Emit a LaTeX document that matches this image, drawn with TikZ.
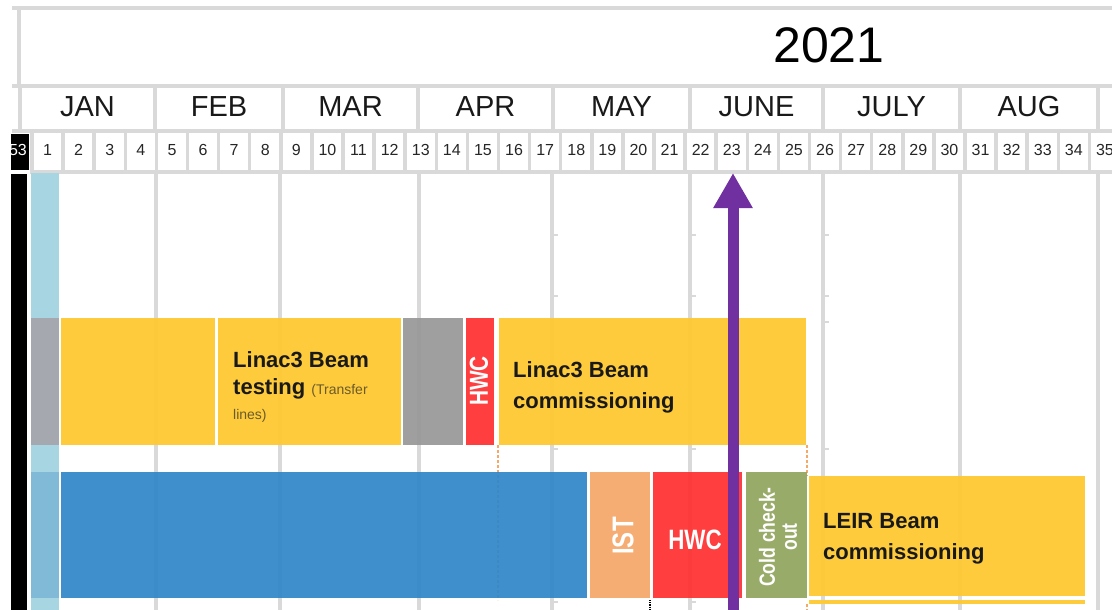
\documentclass[tikz,border=0pt]{standalone}
\usepackage{fontspec}
\setmainfont{Liberation Sans}
\newfontfamily\narrowfont[FakeStretch=0.8]{Liberation Sans}
\usetikzlibrary{arrows.meta}

\definecolor{gridgray}{HTML}{D9D9D9}
\definecolor{baryellow}{HTML}{FEC830}
\definecolor{bargray}{HTML}{999999}
\definecolor{barred}{HTML}{FF3333}
\definecolor{barblue}{HTML}{3388CA}
\definecolor{barorange}{HTML}{F5A86A}
\definecolor{bargreen}{HTML}{93A660}
\definecolor{colblue}{HTML}{A8D5E2}
\definecolor{colgray}{HTML}{A5A8AF}
\definecolor{coldark}{HTML}{80BAD6}
\definecolor{nowpurple}{HTML}{7030A0}
\definecolor{dashorange}{HTML}{F6A868}
\definecolor{notebrown}{HTML}{6B5A2A}

\begin{document}
\begin{tikzpicture}[x=1pt, y=-1pt,
    gridline/.style={gridgray, line width=3.5},
    tickline/.style={gridgray, line width=2.5},
    bar/.style={fill opacity=0.94},
    weeklbl/.style={font=\fontsize{16}{18}\selectfont, text=black!85},
    monthlbl/.style={font=\fontsize{29}{32}\selectfont, text=black!90},
    bartext/.style={font=\fontsize{22}{26}\selectfont\bfseries, text=black!90, inner sep=0},
    notetext/.style={font=\fontsize{14}{16}\selectfont, text=notebrown, inner sep=0},
    whitetext/.style={text=white, font=\narrowfont\bfseries\fontsize{#1}{#1}\selectfont, inner sep=0}]
    \useasboundingbox (0,0) rectangle (1112,610);

    % header: year, months, weeks
    \draw[gridline] (12,8) -- (1112,8);
    \draw[gridline] (12,86) -- (1112,86);
    \draw[gridline] (12,131) -- (1112,131);
    \draw[gridline] (30,172) -- (1112,172);
    \draw[gridline] (19,8) -- (19,86);
    \node[font=\fontsize{50}{54}\selectfont] (year) at (829,45) {2021};
    \foreach \x in {20,155,283,418,553,690,823,960,1098}
        \draw[gridline] (\x,86) -- (\x,131);
    \foreach \m/\a/\b in {JAN/20/155, FEB/155/283, MAR/283/418, APR/418/553,
                          MAY/553/690, JUNE/690/823, JULY/823/960, AUG/960/1098}
        \node[monthlbl] (m\m) at ({(\a+\b)/2},107) {\m};
    \foreach \k in {0,...,35}
        \draw[gridline] ({32+31.1*\k},131) -- ({32+31.1*\k},172);
    \foreach \w in {1,...,35}
        \node[weeklbl] (wk\w) at ({32+31.1*(\w-0.5)},150) {\w};
    \fill[black] (11,134) rectangle (29,170);
    \begin{scope}
        \clip (11,134) rectangle (29,170);
        \node[weeklbl, text=white] (wk53) at (18,150) {53};
    \end{scope}

    % chart grid
    \foreach \x in {156,280,419,552,690,823,960,1098}
        \draw[gridline] (\x,172) -- (\x,610);
    \foreach \x in {552,690,823}
        \foreach \y in {235,296,449,602}
            \draw[tickline] (\x,\y) -- (\x+6,\y);
    \draw[tickline] (823,322) -- (829,322);
    \draw[dashorange, densely dashed, line width=1.2] (498,445) -- (498,600);
    \draw[dashorange, densely dashed, line width=1.2] (807,445) -- (807,476);
    \draw[dashorange, densely dashed, line width=1.2] (807,604) -- (807,610);
    \draw[black, densely dotted, line width=1.2] (650,600) -- (650,610);

    % left column
    \fill[black] (11,174) rectangle (27,610);
    \fill[colblue] (31,173) rectangle (59,610);
    \fill[colgray] (31,318) rectangle (59,445);
    \fill[coldark] (31,472) rectangle (59,598);

    % Linac3 row
    \fill[bar, baryellow] (61,318) rectangle (215,445);
    \fill[bar, baryellow] (218,318) rectangle (401,445);
    \fill[bar, bargray] (403,318) rectangle (463,445);
    \fill[bar, barred] (466,318) rectangle (494,445);
    \fill[bar, baryellow] (499,318) rectangle (806,445);
    \node[bartext, anchor=base west] (testA) at (233,367) {Linac3 Beam};
    \node[bartext, anchor=base west] (testB) at (233,394) {testing {\fontsize{14}{16}\mdseries\color{notebrown}(Transfer}};
    \node[notetext, anchor=base west] (testC) at (233,419) {lines)};
    \node[whitetext=26, rotate=90] (hwcA) at (479,381) {HWC};
    \node[bartext, anchor=base west] (commA) at (513,377) {Linac3 Beam};
    \node[bartext, anchor=base west] (commB) at (513,408) {commissioning};

    % LEIR row
    \fill[bar, barblue] (61,472) rectangle (587,598);
    \fill[bar, barorange] (590,472) rectangle (650,598);
    \fill[bar, barred] (653,472) rectangle (742,598);
    \fill[bar, bargreen] (746,472) rectangle (807,598);
    \fill[bar, baryellow] (809,476) rectangle (1085,596);
    \fill[bar, baryellow] (809,600) rectangle (1085,604);
    \node[whitetext=30, rotate=90] (ist) at (623,536) {IST};
    \node[whitetext=28] (hwcB) at (695,540) {HWC};
    \node[whitetext=22, rotate=90, align=center] (cold) at (778,537) {Cold check-\\out};
    \node[bartext, anchor=base west] (leirA) at (823,528) {LEIR Beam};
    \node[bartext, anchor=base west] (leirB) at (823,559) {commissioning};

    % today marker
    \coordinate (now) at (733,610);
    \coordinate (week23) at (733,173);
    \draw[nowpurple, line width=11, -{Triangle[width=37pt,length=35pt]}] (now) -- (week23);
\end{tikzpicture}
\end{document}
